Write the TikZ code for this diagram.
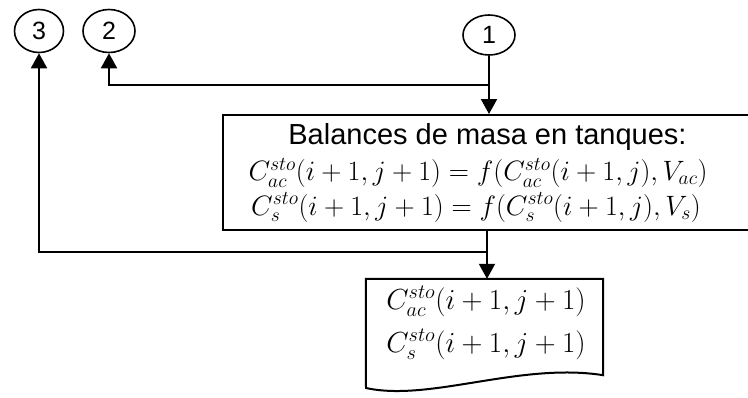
\RequirePackage{fix-cm}
\documentclass[tikz,border=0pt]{standalone}
\usepackage{fontspec}
\setmainfont{Liberation Sans}
\usetikzlibrary{arrows.meta,shapes.geometric}
\begin{document}
\begin{tikzpicture}[x=1pt,y=-1pt,
  conn/.style={line width=2pt},
  arr/.style={conn,-{Triangle[length=15pt,width=16pt]}},
  oval/.style={draw,ellipse,line width=1.6pt,inner sep=0pt,font=\fontsize{25}{25}\selectfont},
  mathtxt/.style={inner sep=0pt,font=\fontsize{28}{28}\selectfont},
  doctxt/.style={inner sep=0pt,font=\fontsize{29}{29}\selectfont},
  sanstxt/.style={inner sep=0pt,font=\fontsize{29}{29}\selectfont}]
\useasboundingbox (0,0) rectangle (748,397);
% connectors (circles)
\node[oval,minimum width=49pt,minimum height=43pt] (c3) at (39,31) {3};
\node[oval,minimum width=52pt,minimum height=43pt] (c2) at (109,31) {2};
\node[oval,minimum width=52pt,minimum height=40pt] (c1) at (489,35) {1};
% process box
\node[draw,line width=2pt,minimum width=529pt,minimum height=115pt,inner sep=0pt] (box) at (487.5,172.5) {};
\node[sanstxt,anchor=base] (t1) at (487.5,144) {Balances de masa en tanques:};
\node[mathtxt,anchor=base] (t2) at (478,180.5) {$C_{ac}^{sto}(i+1,j+1)=f(C_{ac}^{sto}(i+1,j),V_{ac})$};
\node[mathtxt,anchor=base] (t3) at (476,215) {$C_{s}^{sto}(i+1,j+1)=f(C_{s}^{sto}(i+1,j),V_{s})$};
% document
\node[minimum width=237pt,minimum height=96pt,inner sep=0pt] (doc) at (484.5,327) {};
\draw[line width=2pt] (doc.north west) -- (366,388) .. controls (430,402) and (520,362) .. (doc.south east) -- (doc.north east) -- cycle;
\node[doctxt,anchor=base] (d1) at (486,309) {$C_{ac}^{sto}(i+1,j+1)$};
\node[doctxt,anchor=base] (d2) at (486,352) {$C_{s}^{sto}(i+1,j+1)$};
% junctions
\coordinate (j1) at (489,85);
\coordinate (j2) at (487,252);
\draw[arr] (c1.south) -- (c1.south |- box.north);
\draw[arr] (j1) -| (c2.south);
\draw[conn] (j2 |- box.south) -- (j2);
\draw[arr] (j2) -- (j2 |- doc.north);
\draw[arr] (j2) -| (c3.south);
\end{tikzpicture}
\end{document}
